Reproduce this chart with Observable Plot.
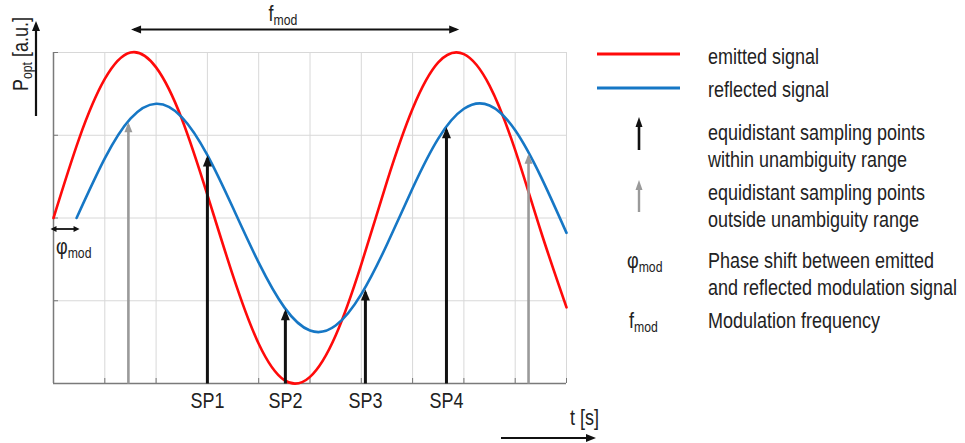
<!DOCTYPE html>
<html><head><meta charset="utf-8">
<script src="https://cdn.jsdelivr.net/npm/d3@7"></script>
<script src="https://cdn.jsdelivr.net/npm/@observablehq/plot@0.6"></script>
<style>
html,body{margin:0;padding:0;background:#fff;}
#chart{width:965px;height:443px;position:relative;overflow:hidden;}
</style></head><body><div id="chart"></div>
<script>
const FONT = '"Liberation Sans", Arial, Helvetica, sans-serif';
const RED = "#ff0a0a", BLUE = "#1677c5", BLACK = "#111111", GRAY = "#9a9a9a";
const STRETCH = 1.22; // glyphs in the reference are vertically stretched

// grid positions
const xGrid = [0,1,2,3,4,5,6,7,8,9,10];
const yGrid = [-1,-0.5,0,0.5,1];

// emitted signal
const emittedT = [0,0.5,1,1.5,2,2.5,3,3.5,4,4.5,5,5.5,6,6.5,7,7.5,8,8.5,9,9.5,10];
const emittedV = [0,0.48,0.84,1.00,0.91,0.60,0.14,-0.35,-0.76,-0.98,-0.96,-0.71,-0.28,0.22,0.66,0.94,0.99,0.80,0.41,-0.08,-0.54];

// reflected signal
const reflectedT = [0.45,1,1.5,2,2.5,3,3.5,4,4.5,5,5.5,6,6.5,7,7.5,8,8.5,9,9.5,10];
const reflectedV = [0,0.36,0.60,0.69,0.61,0.38,0.06,-0.27,-0.54,-0.68,-0.65,-0.46,-0.16,0.18,0.48,0.66,0.68,0.53,0.25,-0.09];

// sampling points
const sampleT = [1.46,3.00,4.52,6.08,7.66,9.26];
const sampleTip = [0.56,0.36,-0.57,-0.45,0.53,0.37];
const sampleInside = [false,true,true,true,true,false];
const sampleLabel = ["","SP1","SP2","SP3","SP4",""];

// annotation spans
const fmodSpan = [1.57, 7.85];
const phiSpan = [0, 0.45];

// legend texts
const legendLabels = ["emitted signal","reflected signal"];
const legendArrowLines = [["equidistant sampling points","within unambiguity range"],["equidistant sampling points","outside unambiguity range"]];
const symbolLines = [["Phase shift between emitted","and reflected modulation signal"],["Modulation frequency"]];

const emitted = emittedT.map((t,i)=>({t, v: emittedV[i]}));
const reflected = reflectedT.map((t,i)=>({t, v: reflectedV[i]}));
const samples = sampleT.map((t,i)=>({t, tip: sampleTip[i], inside: sampleInside[i], label: sampleLabel[i]}));

function triMarker(len, wid, orient) {
  return (color) => {
    const m = d3.create("svg:marker")
      .attr("viewBox", `${-len} ${-wid/2} ${len+4} ${wid}`)
      .attr("markerUnits", "userSpaceOnUse")
      .attr("markerWidth", len+4).attr("markerHeight", wid)
      .attr("refX", 0).attr("refY", 0)
      .attr("orient", orient || "auto")
      .attr("overflow", "visible");
    m.append("path").attr("d", `M${-len+3},${-wid/2}L3,0L${-len+3},${wid/2}Z`).attr("fill", color).attr("stroke", "none");
    return m.node();
  };
}

const chart = Plot.plot({
  width: 965, height: 443,
  marginLeft: 53, marginRight: 399, marginTop: 52, marginBottom: 60,
  x: {domain: [0, 10], axis: null},
  y: {domain: [-1, 1], axis: null},
  style: {fontFamily: FONT, fontSize: "18px", color: "#222", background: "white", overflow: "visible"},
  marks: [
    Plot.gridX(xGrid, {stroke: "#d8d8d8", strokeOpacity: 1, strokeWidth: 1}),
    Plot.gridY(yGrid, {stroke: "#d8d8d8", strokeOpacity: 1, strokeWidth: 1}),
    Plot.axisX(xGrid, {tickSize: -5, tickFormat: () => "", stroke: "#777", label: null}),
    Plot.axisY(yGrid, {tickSize: -5, tickFormat: () => "", stroke: "#777", label: null}),
    Plot.ruleX([0], {stroke: "#7a7a7a", strokeWidth: 1.5}),
    Plot.ruleY([-1], {stroke: "#7a7a7a", strokeWidth: 1.5}),
    Plot.line(emitted, {x: "t", y: "v", stroke: RED, strokeWidth: 2.6, curve: "natural"}),
    Plot.line(reflected, {x: "t", y: "v", stroke: BLUE, strokeWidth: 2.6, curve: "natural"}),
    Plot.link(samples.filter(d => !d.inside), {x1: "t", x2: "t", y1: () => -1, y2: "tip", stroke: GRAY, strokeWidth: 2.6, markerEnd: triMarker(10, 8)}),
    Plot.link(samples.filter(d => d.inside), {x1: "t", x2: "t", y1: () => -1, y2: "tip", stroke: BLACK, strokeWidth: 3, markerEnd: triMarker(11, 9)}),
    Plot.text(samples.filter(d => d.label), {x: "t", frameAnchor: "bottom", dy: 24, text: "label", fontSize: 18, fill: "#222", className: "splabel"}),
    Plot.link([fmodSpan], {x1: d => d[0], x2: d => d[1], y1: () => 1, y2: () => 1, dy: -23, stroke: BLACK, strokeWidth: 2.2,
      markerStart: triMarker(10, 8, "auto-start-reverse"), markerEnd: triMarker(10, 8)}),
    Plot.link([phiSpan], {x1: d => d[0], x2: d => d[1], y1: () => 0, y2: () => 0, dy: 11, stroke: BLACK, strokeWidth: 1.8,
      markerStart: triMarker(6, 6, "auto-start-reverse"), markerEnd: triMarker(6, 6)})
  ]
});
document.getElementById("chart").appendChild(chart);

// stretch the SP labels vertically like the reference glyphs
d3.select(chart).selectAll(".splabel text").each(function() {
  const tr = this.getAttribute("transform") || "";
  this.setAttribute("transform", `${tr} scale(1,${STRETCH})`);
});

// ---- annotations & legend overlay ----
const sx = chart.scale("x");
const svg = d3.select(chart);
const g = svg.append("g").attr("font-family", FONT).attr("fill", "#222").attr("text-anchor", "start");

function txt(x, y, s, size, anchor = "start", rot = 0) {
  return g.append("text").attr("transform", `translate(${x},${y})${rot ? ` rotate(${rot})` : ""} scale(1,${STRETCH})`)
    .attr("font-size", size).attr("text-anchor", anchor).text(s);
}
function subText(x, y, parts, size, rot = 0) {
  const t = g.append("text").attr("transform", `translate(${x},${y})${rot ? ` rotate(${rot})` : ""} scale(1,${STRETCH})`)
    .attr("font-size", size);
  let shift = 0;
  for (const [s, isSub] of parts) {
    const sp = t.append("tspan").text(s);
    if (isSub) { sp.attr("font-size", size * 0.68).attr("dy", size * 0.2 - shift); shift = size * 0.2; }
    else { if (shift) sp.attr("dy", -shift); shift = 0; }
  }
  return t;
}
function arrow(x1, y1, x2, y2, color, w, hl, hw) {
  const ang = Math.atan2(y2 - y1, x2 - x1);
  const bx = x2 - hl * Math.cos(ang), by = y2 - hl * Math.sin(ang);
  g.append("line").attr("x1", x1).attr("y1", y1).attr("x2", bx + Math.cos(ang)).attr("y2", by + Math.sin(ang))
    .attr("stroke", color).attr("stroke-width", w);
  const px = -Math.sin(ang) * hw / 2, py = Math.cos(ang) * hw / 2;
  g.append("path").attr("d", `M${x2},${y2}L${bx + px},${by + py}L${bx - px},${by - py}Z`).attr("fill", color);
}

// f_mod label above the period arrow
subText(sx.apply((fmodSpan[0] + fmodSpan[1]) / 2) - 26, 21, [["f", false], ["mod", true]], 18);
// phi_mod label under the phase arrow
subText(sx.apply(phiSpan[0]) + 3, 254, [["φ", false], ["mod", true]], 18);

// y-axis label + arrow
subText(28, 91, [["P", false], ["opt", true], [" [a.u.]", false]], 18, -90);
arrow(36, 116, 36, 21, BLACK, 2.2, 10, 8);

// x-axis label + arrow
txt(599, 425, "t [s]", 18, "end");
arrow(501, 438, 596, 438, BLACK, 2.2, 10, 8);

// legend
const lx0 = 597, lx1 = 680, tx = 708, ax = 639;
g.append("line").attr("x1", lx0).attr("x2", lx1).attr("y1", 54).attr("y2", 54).attr("stroke", RED).attr("stroke-width", 2.8);
txt(tx, 64, legendLabels[0], 18);
g.append("line").attr("x1", lx0).attr("x2", lx1).attr("y1", 88).attr("y2", 88).attr("stroke", BLUE).attr("stroke-width", 2.8);
txt(tx, 97, legendLabels[1], 18);

arrow(ax, 150, ax, 117, BLACK, 2.6, 10, 7);
legendArrowLines[0].forEach((s, i) => txt(tx, 140 + i * 27, s, 18));
arrow(ax, 212, ax, 180, GRAY, 2.4, 10, 7);
legendArrowLines[1].forEach((s, i) => txt(tx, 200 + i * 27, s, 18));

subText(627, 268, [["φ", false], ["mod", true]], 18);
symbolLines[0].forEach((s, i) => txt(tx, 268 + i * 27, s, 18));
subText(629, 328, [["f", false], ["mod", true]], 18);
symbolLines[1].forEach((s, i) => txt(tx, 328 + i * 27, s, 18));
</script></body></html>
